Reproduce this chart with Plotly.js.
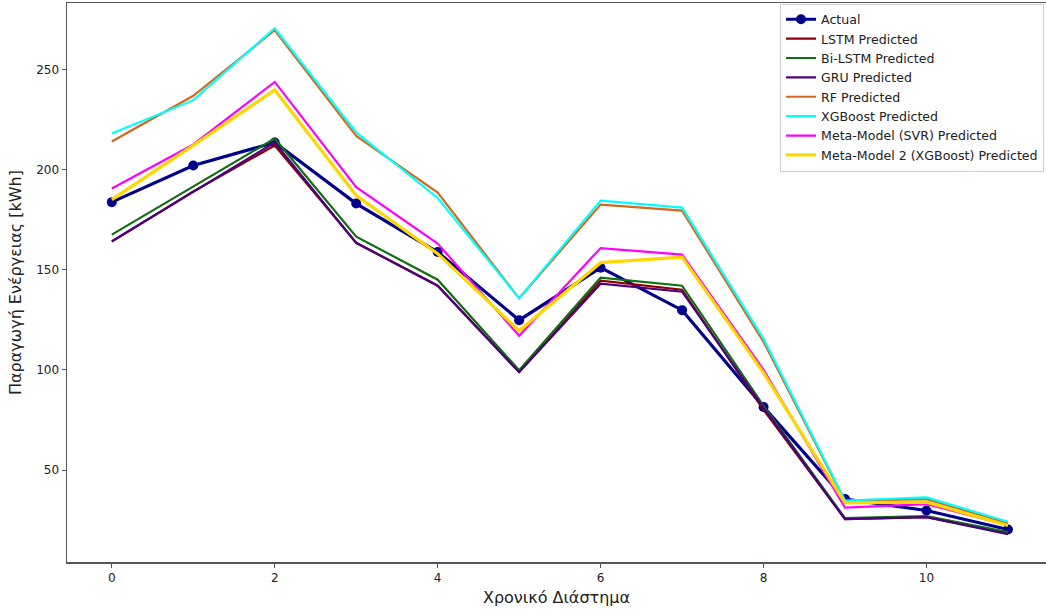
<!DOCTYPE html>
<html>
<head>
<meta charset="utf-8">
<script src="https://cdn.plot.ly/plotly-3.0.1.min.js"></script>
<style>html,body{margin:0;padding:0;background:#fff;}#chart{width:1046px;height:611px;}</style>
</head>
<body>
<div id="chart"></div>
<script>
const xIdx = [0, 1, 2, 3, 4, 5, 6, 7, 8, 9, 10, 11];
const actual   = [183.7, 202.0, 213.5, 183.0, 158.8, 124.8, 151.0, 129.8, 81.5, 35.5, 29.8, 20.3];
const lstm     = [164.0, 189.0, 212.0, 163.5, 142.0, 99.0, 144.5, 140.0, 80.0, 25.5, 26.5, 18.5];
const biLstm   = [167.5, 191.5, 215.5, 166.5, 145.0, 99.8, 146.0, 142.0, 82.0, 26.0, 27.0, 19.0];
const gru      = [164.2, 189.0, 213.5, 163.3, 142.0, 98.8, 143.0, 139.0, 81.0, 25.5, 26.5, 18.0];
const rf       = [214.0, 236.8, 269.5, 216.8, 188.5, 135.7, 182.5, 179.5, 114.0, 34.5, 35.5, 23.5];
const xgb      = [218.0, 234.6, 270.5, 218.5, 185.8, 135.7, 184.5, 181.0, 115.5, 34.8, 36.3, 24.2];
const svr      = [190.5, 212.5, 243.7, 191.2, 163.0, 117.0, 160.8, 157.5, 100.0, 31.2, 33.0, 22.5];
const meta2    = [185.0, 212.0, 239.7, 187.0, 158.0, 119.5, 153.5, 156.3, 98.5, 33.6, 34.0, 22.3];

const seriesNames = ['Actual', 'LSTM Predicted', 'Bi-LSTM Predicted', 'GRU Predicted', 'RF Predicted',
  'XGBoost Predicted', 'Meta-Model (SVR) Predicted', 'Meta-Model 2 (XGBoost) Predicted'];
const xTicks = [0, 2, 4, 6, 8, 10];
const yTicks = [50, 100, 150, 200, 250];

const font = 'DejaVu Sans, sans-serif';
function line(y, name, color, width) {
  return {x: xIdx, y: y, name: name, type: 'scatter', mode: 'lines',
          line: {color: color, width: width}};
}
const traces = [
  {x: xIdx, y: actual, name: seriesNames[0], type: 'scatter', mode: 'lines+markers',
   line: {color: '#00008B', width: 3.2}, marker: {color: '#00008B', size: 10}},
  line(lstm, seriesNames[1], '#8B0000', 2.2),
  line(biLstm, seriesNames[2], '#0f6e0f', 2.2),
  line(gru, seriesNames[3], '#4B0082', 2.2),
  line(rf, seriesNames[4], '#D2691E', 2.2),
  line(xgb, seriesNames[5], '#00FFFF', 2.2),
  line(svr, seriesNames[6], '#FF00FF', 2.2),
  line(meta2, seriesNames[7], '#FFD700', 3.2)
];

const layout = {
  width: 1046, height: 611,
  margin: {l: 67, r: 0, t: 3, b: 49},
  paper_bgcolor: '#fff', plot_bgcolor: '#fff',
  font: {family: font, size: 12, color: '#222'},
  showlegend: true,
  legend: {x: 0.998, xanchor: 'right', y: 0.999, yanchor: 'top',
           bgcolor: 'rgba(255,255,255,0.9)', bordercolor: '#d0d0d0', borderwidth: 1,
           font: {family: font, size: 12.6, color: '#222'}, tracegroupgap: 0},
  xaxis: {
    range: [-0.55, 11.467], tickvals: xTicks, ticktext: xTicks.map(String),
    showgrid: false, zeroline: false, showline: true, mirror: true,
    linecolor: '#555', linewidth: 1.5, ticks: 'outside', ticklen: 4, tickcolor: '#555',
    tickfont: {family: font, size: 12, color: '#222'},
    title: {text: 'Χρονικό Διάστημα', font: {family: font, size: 16, color: '#222'}, standoff: 8}
  },
  yaxis: {
    range: [4.1, 283.1], tickvals: yTicks, ticktext: yTicks.map(String),
    showgrid: false, zeroline: false, showline: true, mirror: false,
    linecolor: '#555', linewidth: 1.5, ticks: 'outside', ticklen: 4, tickcolor: '#555',
    tickfont: {family: font, size: 12, color: '#222'},
    title: {text: 'Παραγωγή Ενέργειας [kWh]', font: {family: font, size: 16, color: '#222'}, standoff: 10}
  }
};
Plotly.newPlot('chart', traces, layout, {displayModeBar: false, staticPlot: true});
</script>
</body>
</html>
